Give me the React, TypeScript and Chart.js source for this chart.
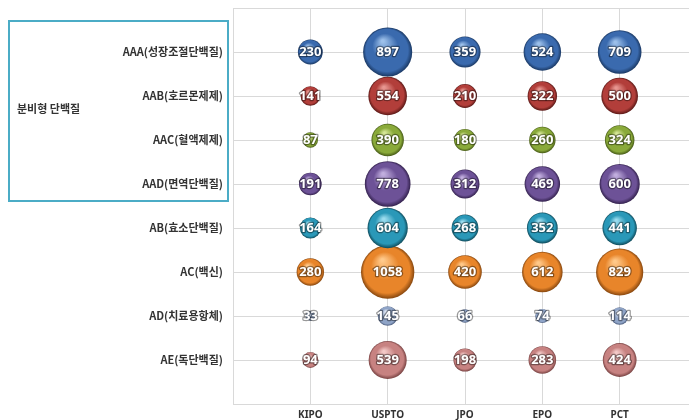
import React, { useEffect, useRef } from "react";
import { Chart, registerables } from "chart.js";

Chart.register(...registerables);

const rowLabels = [
  "AAA(성장조절단백질)",
  "AAB(호르몬제제)",
  "AAC(혈액제제)",
  "AAD(면역단백질)",
  "AB(효소단백질)",
  "AC(백신)",
  "AD(치료용항체)",
  "AE(독단백질)",
];
const offices = ["KIPO", "USPTO", "JPO", "EPO", "PCT"];

const valAAA = [230, 897, 359, 524, 709];
const valAAB = [141, 554, 210, 322, 500];
const valAAC = [87, 390, 180, 260, 324];
const valAAD = [191, 778, 312, 469, 600];
const valAB = [164, 604, 268, 352, 441];
const valAC = [280, 1058, 420, 612, 829];
const valAD = [33, 145, 66, 74, 114];
const valAE = [94, 539, 198, 283, 424];
const seriesValues = [valAAA, valAAB, valAAC, valAAD, valAB, valAC, valAD, valAE];

const groupLabel = "분비형 단백질";

// [highlight, base, edge]
const palette = [
  ["#9cc0ea", "#3a6aae", "#1a3863"],
  ["#e79690", "#b23e3a", "#5a1816"],
  ["#d5e696", "#8aaa3a", "#465a16"],
  ["#c1aede", "#6d5297", "#33214d"],
  ["#9adcee", "#2a98b8", "#0f4b5b"],
  ["#ffc98a", "#e8852a", "#86460e"],
  ["#dde5f3", "#8fa4c7", "#48597a"],
  ["#f3cac8", "#c78281", "#784242"],
];

const SIZE_K = 0.82;

const labelPlugin = {
  id: "bubbleLabels",
  afterDatasetsDraw(chart: any) {
    const ctx = chart.ctx;
    ctx.save();
    ctx.font = "bold 13px 'Noto Sans', 'DejaVu Sans', sans-serif";
    ctx.textAlign = "center";
    ctx.textBaseline = "middle";
    chart.data.datasets.forEach((ds: any, di: number) => {
      const meta = chart.getDatasetMeta(di);
      meta.data.forEach((el: any, i: number) => {
        const t = String(ds.data[i].v);
        ctx.lineJoin = "round";
        ctx.lineWidth = 2.5;
        ctx.strokeStyle = "rgba(0,0,0,0.4)";
        ctx.strokeText(t, el.x, el.y + 0.5);
        ctx.fillStyle = "#ffffff";
        ctx.fillText(t, el.x, el.y + 0.5);
      });
    });
    ctx.restore();
  },
};

const boxPlugin = {
  id: "groupBox",
  afterDraw(chart: any) {
    const ctx = chart.ctx;
    ctx.save();
    ctx.strokeStyle = "#4bacc6";
    ctx.lineWidth = 2;
    ctx.strokeRect(9, 21, 219, 180);
    ctx.fillStyle = "#333333";
    ctx.font = "bold 11px 'Noto Sans CJK KR', sans-serif";
    ctx.textAlign = "left";
    ctx.textBaseline = "middle";
    ctx.fillText(groupLabel, 17, 109);
    ctx.restore();
  },
};

const zeroPad = (s: any) => {
  s.paddingTop = 0;
  s.paddingBottom = 0;
  s.paddingLeft = 0;
  s.paddingRight = 0;
};

export default function App() {
  const ref = useRef<HTMLCanvasElement>(null);
  useEffect(() => {
    if (!ref.current) return;
    const datasets = seriesValues.map((vals, ri) => ({
      label: rowLabels[ri],
      data: vals.map((v, ci) => ({ x: ci + 1, y: ri + 1, r: SIZE_K * Math.sqrt(v), v })),
      borderWidth: 0,
      backgroundColor: (c: any) => {
        const chart = c.chart;
        const [light, base, dark] = palette[ri];
        if (!chart.chartArea || c.type !== "data" || !c.raw) return base;
        const raw = c.raw;
        const x = chart.scales.x.getPixelForValue(raw.x);
        const y = chart.scales.y.getPixelForValue(raw.y);
        const r = raw.r;
        const g = chart.ctx.createRadialGradient(x - r * 0.2, y - r * 0.45, r * 0.05, x, y, r);
        g.addColorStop(0, light);
        g.addColorStop(0.5, base);
        g.addColorStop(0.85, base);
        g.addColorStop(1, dark);
        return g;
      },
    }));
    const chart = new Chart(ref.current, {
      type: "bubble",
      data: { datasets },
      plugins: [labelPlugin, boxPlugin],
      options: {
        responsive: false,
        animation: false,
        layout: { autoPadding: false, padding: { top: 8, left: 0, right: 0, bottom: 0 } },
        plugins: { legend: { display: false }, tooltip: { enabled: false } },
        scales: {
          x: {
            type: "linear",
            min: 0,
            max: 6,
            afterFit: (s: any) => {
              s.height = 16;
              zeroPad(s);
            },
            ticks: {
              stepSize: 1,
              padding: 5,
              color: "#333333",
              font: { family: "'Noto Sans', sans-serif", size: 10, weight: "bold" },
              callback: (v: any) => (v >= 1 && v <= 5 ? offices[v - 1] : ""),
              maxRotation: 0,
              autoSkip: false,
            },
            grid: { color: "#d9d9d9", drawTicks: false },
            border: { color: "#d9d9d9" },
          },
          y: {
            type: "linear",
            min: 0,
            max: 9,
            reverse: true,
            afterFit: (s: any) => {
              s.width = 233;
              zeroPad(s);
            },
            ticks: {
              stepSize: 1,
              padding: 10,
              color: "#333333",
              font: { family: "'Noto Sans CJK KR', sans-serif", size: 11, weight: "bold" },
              callback: (v: any) => (v >= 1 && v <= 8 ? rowLabels[v - 1] : ""),
              autoSkip: false,
            },
            grid: { color: "#d9d9d9", drawTicks: false },
            border: { color: "#d9d9d9" },
          },
        },
      },
    });
    return () => chart.destroy();
  }, []);
  return (
    <div style={{ position: "absolute", left: 0, top: 0, width: 689, height: 420, overflow: "hidden", background: "#fff" }}>
      <canvas ref={ref} width={697} height={420} style={{ display: "block" }} />
    </div>
  );
}
